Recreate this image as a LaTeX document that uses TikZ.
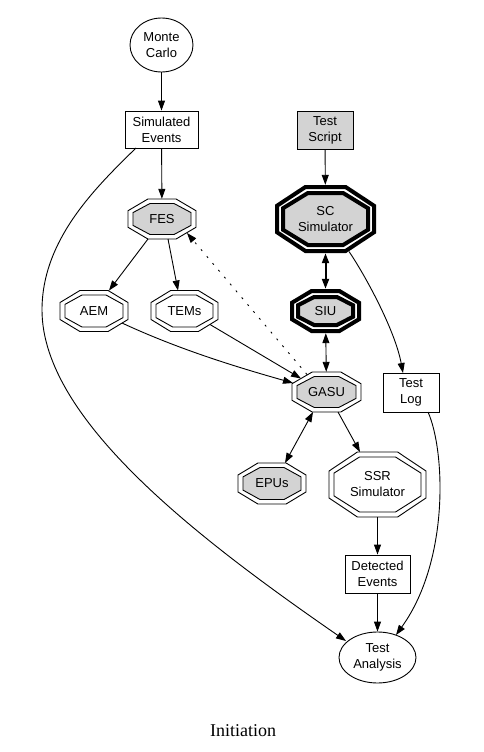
\documentclass[tikz,border=0pt]{standalone}
\usepackage{fontspec}
\setsansfont{Liberation Sans}
\newfontfamily\capfont{Liberation Serif}
\usetikzlibrary{shapes.geometric,arrows.meta,calc,backgrounds}
\definecolor{lgray}{RGB}{211,211,211}
\newcommand{\octdraw}[4]{%
  \draw[#1] ($(#2)+({-0.4142*#3},{#4})$) -- ($(#2)+({0.4142*#3},{#4})$) -- ($(#2)+({#3},{0.4142*#4})$) -- ($(#2)+({#3},{-0.4142*#4})$) -- ($(#2)+({0.4142*#3},{-#4})$) -- ($(#2)+({-0.4142*#3},{-#4})$) -- ($(#2)+({-#3},{-0.4142*#4})$) -- ($(#2)+({-#3},{0.4142*#4})$) -- cycle;}
\begin{document}
\begin{tikzpicture}[x=1pt,y=-1pt,
  txt/.style={font=\sffamily\fontsize{13}{16}\selectfont, align=center, inner sep=0pt},
  box/.style={txt, draw, rectangle, line width=0.9pt},
  ell/.style={txt, draw, ellipse, line width=0.9pt},
  oct/.style={txt, rectangle},
  octline/.style={line width=0.9pt},
  thickoct/.style={line width=4pt, line join=miter},
  tip/.tip={Triangle[length=10pt,width=7pt]},
  edge/.style={line width=0.9pt, -tip},
  bi/.style={line width=0.9pt, tip-tip},
  dotedge/.style={line width=0.9pt, dash pattern=on 2pt off 7pt, -tip}]
\useasboundingbox (0,0) rectangle (484,752);
\node[ell, minimum width=63pt, minimum height=54pt] (mc) at (161.5,45) {Monte\\Carlo};
\node[box, minimum width=73pt, minimum height=37pt] (se) at (161.5,129.5) {Simulated\\Events};
\node[oct, minimum width=68pt, minimum height=40pt] (fes) at (162,219) {FES};
\node[box, fill=lgray, minimum width=56pt, minimum height=38pt] (ts) at (325,130) {Test\\Script};
\node[oct, minimum width=101pt, minimum height=68pt] (sc) at (325.5,219) {SC\\Simulator};
\node[oct, minimum width=71pt, minimum height=44pt] (siu) at (325.5,311) {SIU};
\node[oct, minimum width=68pt, minimum height=41pt] (aem) at (94,311) {AEM};
\node[oct, minimum width=67pt, minimum height=41pt] (tems) at (184.5,311) {TEMs};
\node[oct, minimum width=69pt, minimum height=40pt] (gasu) at (326.5,392) {GASU};
\node[box, minimum width=56pt, minimum height=39pt] (tl) at (411,392.5) {Test\\Log};
\node[oct, minimum width=68pt, minimum height=41pt] (epus) at (272,483.5) {EPUs};
\node[oct, minimum width=97pt, minimum height=65pt] (ssr) at (377.5,484.5) {SSR\\Simulator};
\node[box, minimum width=65pt, minimum height=38pt] (de) at (377.5,574) {Detected\\Events};
\node[ell, minimum width=77pt, minimum height=51pt] (ta) at (377.5,657.5) {Test\\Analysis};
\node[font=\capfont\fontsize{18}{20}\selectfont, anchor=base, inner sep=0pt] (cap) at (243,736) {Initiation};
\begin{scope}[on background layer]
  \fill[white] (0,0) rectangle (484,752);
  \octdraw{octline}{fes}{34}{20}
  \octdraw{octline,fill=lgray}{fes}{29}{15.5}
  \octdraw{octline}{aem}{34}{20.5}
  \octdraw{octline}{aem}{29}{16}
  \octdraw{octline}{tems}{33.5}{20.5}
  \octdraw{octline}{tems}{28.5}{16}
  \octdraw{octline}{gasu}{34.5}{20}
  \octdraw{octline,fill=lgray}{gasu}{29.5}{15.5}
  \octdraw{octline}{epus}{34}{20.5}
  \octdraw{octline,fill=lgray}{epus}{29}{16}
  \octdraw{octline}{ssr}{48.5}{32.5}
  \octdraw{octline}{ssr}{43.5}{27.5}
  \octdraw{thickoct}{sc}{48.5}{32}
  \octdraw{thickoct,fill=lgray}{sc}{42.5}{26}
  \octdraw{thickoct}{siu}{33.5}{20}
  \octdraw{thickoct,fill=lgray}{siu}{27.5}{14}
\end{scope}
\draw[edge] (mc) -- (se);
\draw[edge] (se) -- (fes);
\draw[edge] ($(se)+(-25.5,18.5)$) .. controls (95,188) and (42,240) .. (42,310) .. controls (42,420) and (200,540) .. ($(ta)+(-31.5,-16.5)$);
\draw[edge] ($(fes)+(-14,20)$) -- ($(aem)+(15,-20.5)$);
\draw[edge] ($(fes)+(6,20)$) -- ($(tems)+(-6.5,-20.5)$);
\draw[dotedge] ($(gasu)+(-19.5,-17.5)$) -- ($(fes)+(25,14)$);
\draw[edge] ($(aem)+(28,12)$) .. controls (180,350) and (240,368) .. ($(gasu)+(-33.5,-9)$);
\draw[edge] ($(tems)+(25.5,13.5)$) -- ($(gasu)+(-25.5,-13.5)$);
\draw[edge] (ts) -- (sc);
\draw[bi, line width=2pt] (sc) -- (siu);
\draw[bi] (siu) -- (gasu);
\draw[edge] ($(sc)+(23.5,32.5)$) .. controls (365,275) and (395,330) .. ($(tl)+(-8,-19.5)$);
\draw[bi] ($(gasu)+(-13.5,20)$) -- ($(epus)+(13,-20.5)$);
\draw[edge] ($(gasu)+(11.5,20)$) -- ($(ssr)+(-17.5,-32.5)$);
\draw[edge] (ssr) -- (de);
\draw[edge] (de) -- (ta);
\draw[edge] ($(tl)+(17,19.5)$) .. controls (445,450) and (450,560) .. ($(ta)+(18.5,-22.5)$);
\end{tikzpicture}
\end{document}
